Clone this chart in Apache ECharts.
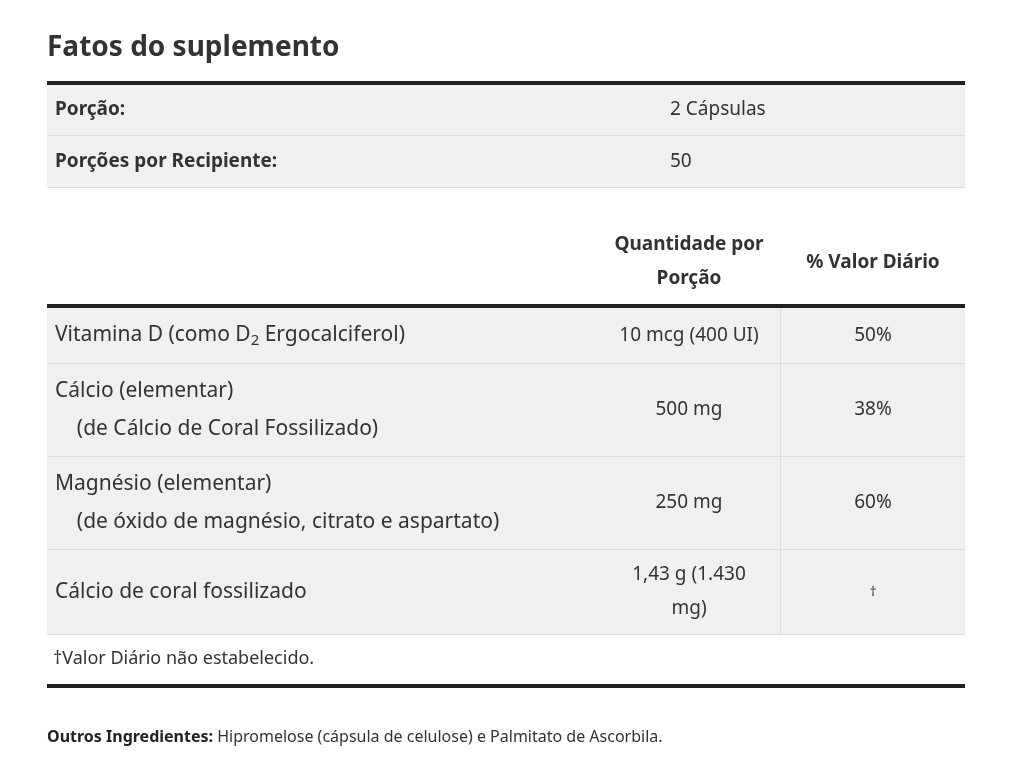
<!DOCTYPE html>
<html><head><meta charset="utf-8">
<script src="https://cdn.jsdelivr.net/npm/echarts@6/dist/echarts.min.js"></script>
<style>html,body{margin:0;padding:0;background:#fff}#c{width:1013px;height:783px}</style>
</head><body><div id="c"></div>
<script>
const title = "Fatos do suplemento";
const servingLabels = ["Porção:", "Porções por Recipiente:"];
const servingValues = ["2 Cápsulas", "50"];
const headers = ["Quantidade por\nPorção", "% Valor Diário"];
const nutrients = ["Vitamina D (como {s|D}{sub|2}{s| Ergocalciferol)}", "Cálcio (elementar)\n    (de Cálcio de Coral Fossilizado)", "Magnésio (elementar)\n    (de óxido de magnésio, citrato e aspartato)", "Cálcio de coral fossilizado"];
const amounts = ["10 mcg (400 UI)", "500 mg", "250 mg", "1,43 g (1.430\nmg)"];
const dailyValues = ["50%", "38%", "60%", "†"];
const footnote = "†Valor Diário não estabelecido.";
const otherLabel = "Outros Ingredientes:";
const otherText = " Hipromelose (cápsula de celulose) e Palmitato de Ascorbila.";

const F = "'Noto Sans',sans-serif", C = "#333";
const L = 47, R = 965, W = R - L;
const g = [];
const rect = (x, y, w, h, fill) => g.push({type:'rect', shape:{x, y, width:w, height:h}, style:{fill}, silent:true});
const text = (x, y, t, o) => g.push({type:'text', x, y, style:Object.assign({text:t, font:'20px ' + F, fill:C, textVerticalAlign:'middle'}, o)});

text(L, 48, title, {font:'bold 28px ' + F});
rect(L, 81, W, 4, '#222');
const sTops = [85, 136], sH = [50, 51];
servingLabels.forEach((s, i) => {
  rect(L, sTops[i], W, sH[i], '#f0f0f0');
  if (i) rect(L, sTops[i] - 1, W, 1, '#dcdcdc');
  text(55, sTops[i] + sH[i] / 2, s, {font:'bold 19px ' + F});
  text(670, sTops[i] + sH[i] / 2, servingValues[i], {font:'19px ' + F});
});
rect(L, 187, W, 1, '#dcdcdc');
text(689, 262, headers[0], {font:'bold 19px ' + F, textAlign:'center', lineHeight:34});
text(873, 263, headers[1], {font:'bold 19px ' + F, textAlign:'center'});
rect(L, 304, W, 4, '#222');
const rTops = [308, 364, 457, 550], rBot = 634;
nutrients.forEach((n, i) => {
  const t = rTops[i], b = i < 3 ? rTops[i + 1] - 1 : rBot, m = (t + b) / 2;
  rect(L, t, W, b - t, '#f0f0f0');
  rect(L, b, W, 1, '#dcdcdc');
  rect(780, t, 1, b - t, '#dcdcdc');
  text(55, m, n, {font:'21px ' + F, lineHeight:38, rich:{s:{font:'21px ' + F, fill:C}, sub:{font:'15px ' + F, fill:C, padding:[10,0,0,0]}}});
  text(689, m, amounts[i], {textAlign:'center', lineHeight:34, font:'19px ' + F});
  text(873, m, dailyValues[i], {textAlign:'center', font:(i === 3 ? '13px ' : '19px ') + F});
});
text(53, 659, footnote, {font:'18px ' + F});
rect(L, 684, W, 4, '#222');
text(47, 737, '{b|' + otherLabel + '}' + otherText, {font:'16px ' + F, rich:{b:{font:'bold 16px ' + F, fill:'#222'}}});

const chart = echarts.init(document.getElementById('c'));
chart.setOption({animation:false, graphic:{elements:g}});
</script></body></html>
